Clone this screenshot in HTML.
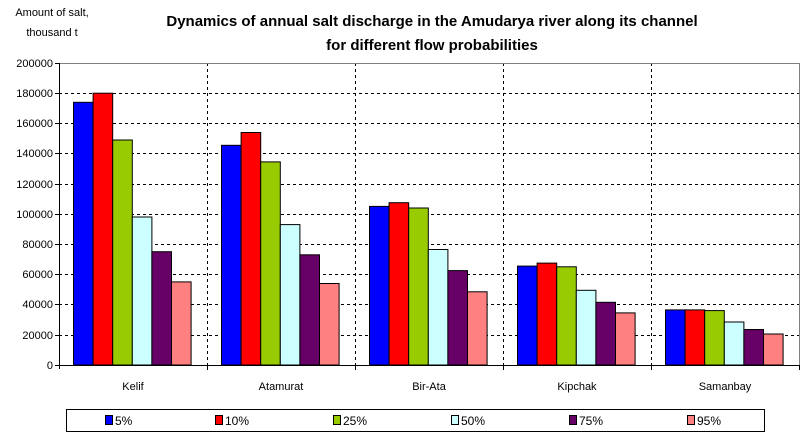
<!DOCTYPE html>
<html><head><meta charset="utf-8"><style>
html,body{margin:0;padding:0;background:#fff;}
svg{display:block;font-family:"Liberation Sans",Arial,sans-serif;}
</style></head><body>
<svg width="808" height="442" viewBox="0 0 808 442" xmlns="http://www.w3.org/2000/svg">
<rect width="808" height="442" fill="#fff"/>
<text x="52" y="16" font-size="11" text-anchor="middle">Amount of salt,</text>
<text x="52" y="36" font-size="11" text-anchor="middle">thousand t</text>
<text x="432" y="26" font-size="15" font-weight="bold" text-anchor="middle">Dynamics of annual salt discharge in the Amudarya river along its channel</text>
<text x="432" y="50" font-size="15" font-weight="bold" text-anchor="middle">for different flow probabilities</text>
<g stroke="#000" stroke-dasharray="3,3" stroke-width="1">
<line x1="59" x2="799" y1="93.5" y2="93.5"/><line x1="59" x2="799" y1="123.5" y2="123.5"/>
<line x1="59" x2="799" y1="153.5" y2="153.5"/><line x1="59" x2="799" y1="184.5" y2="184.5"/>
<line x1="59" x2="799" y1="214.5" y2="214.5"/><line x1="59" x2="799" y1="244.5" y2="244.5"/>
<line x1="59" x2="799" y1="274.5" y2="274.5"/><line x1="59" x2="799" y1="304.5" y2="304.5"/>
<line x1="59" x2="799" y1="335.5" y2="335.5"/>
<line x1="207.5" x2="207.5" y1="63" y2="365"/><line x1="355.5" x2="355.5" y1="63" y2="365"/>
<line x1="503.5" x2="503.5" y1="63" y2="365"/><line x1="651.5" x2="651.5" y1="63" y2="365"/>
</g>
<line x1="59" x2="799" y1="63.5" y2="63.5" stroke="#808080"/>
<line x1="799.5" x2="799.5" y1="63" y2="365" stroke="#808080"/>
<g font-size="11" text-anchor="end">
<text x="53" y="67">200000</text><text x="53" y="97">180000</text><text x="53" y="127">160000</text>
<text x="53" y="157">140000</text><text x="53" y="188">120000</text><text x="53" y="218">100000</text>
<text x="53" y="248">80000</text><text x="53" y="278">60000</text><text x="53" y="308">40000</text>
<text x="53" y="339">20000</text><text x="53" y="369">0</text>
</g>
<g stroke="#000" stroke-width="1">
<rect x="73.5" y="102.3" width="19.6" height="262.7" fill="#0000ff"/>
<rect x="93.1" y="93.2" width="19.6" height="271.8" fill="#ff0000"/>
<rect x="112.7" y="140" width="19.6" height="225" fill="#99cc00"/>
<rect x="132.3" y="217" width="19.6" height="148" fill="#ccffff"/>
<rect x="151.9" y="251.7" width="19.6" height="113.3" fill="#660066"/>
<rect x="171.5" y="281.9" width="19.6" height="83.1" fill="#ff8080"/>

<rect x="221.5" y="145.3" width="19.6" height="219.7" fill="#0000ff"/>
<rect x="241.1" y="132.5" width="19.6" height="232.5" fill="#ff0000"/>
<rect x="260.7" y="161.9" width="19.6" height="203.1" fill="#99cc00"/>
<rect x="280.3" y="224.6" width="19.6" height="140.4" fill="#ccffff"/>
<rect x="299.9" y="254.8" width="19.6" height="110.2" fill="#660066"/>
<rect x="319.5" y="283.5" width="19.6" height="81.5" fill="#ff8080"/>

<rect x="369.5" y="206.4" width="19.6" height="158.6" fill="#0000ff"/>
<rect x="389.1" y="202.7" width="19.6" height="162.3" fill="#ff0000"/>
<rect x="408.7" y="208" width="19.6" height="157" fill="#99cc00"/>
<rect x="428.3" y="249.5" width="19.6" height="115.5" fill="#ccffff"/>
<rect x="447.9" y="270.6" width="19.6" height="94.4" fill="#660066"/>
<rect x="467.5" y="291.8" width="19.6" height="73.2" fill="#ff8080"/>

<rect x="517.5" y="266.1" width="19.6" height="98.9" fill="#0000ff"/>
<rect x="537.1" y="263.1" width="19.6" height="101.9" fill="#ff0000"/>
<rect x="556.7" y="266.8" width="19.6" height="98.2" fill="#99cc00"/>
<rect x="576.3" y="290.3" width="19.6" height="74.7" fill="#ccffff"/>
<rect x="595.9" y="302.3" width="19.6" height="62.7" fill="#660066"/>
<rect x="615.5" y="312.9" width="19.6" height="52.1" fill="#ff8080"/>

<rect x="665.5" y="309.9" width="19.6" height="55.1" fill="#0000ff"/>
<rect x="685.1" y="309.9" width="19.6" height="55.1" fill="#ff0000"/>
<rect x="704.7" y="310.6" width="19.6" height="54.4" fill="#99cc00"/>
<rect x="724.3" y="322" width="19.6" height="43" fill="#ccffff"/>
<rect x="743.9" y="329.5" width="19.6" height="35.5" fill="#660066"/>
<rect x="763.5" y="334" width="19.6" height="31" fill="#ff8080"/>
</g>
<g stroke="#000" stroke-width="1">
<line x1="59.5" x2="59.5" y1="63" y2="369"/>
<line x1="55" x2="59" y1="63.5" y2="63.5"/><line x1="55" x2="59" y1="93.5" y2="93.5"/>
<line x1="55" x2="59" y1="123.5" y2="123.5"/><line x1="55" x2="59" y1="153.5" y2="153.5"/>
<line x1="55" x2="59" y1="184.5" y2="184.5"/><line x1="55" x2="59" y1="214.5" y2="214.5"/>
<line x1="55" x2="59" y1="244.5" y2="244.5"/><line x1="55" x2="59" y1="274.5" y2="274.5"/>
<line x1="55" x2="59" y1="304.5" y2="304.5"/><line x1="55" x2="59" y1="335.5" y2="335.5"/>
<line x1="55" x2="59" y1="365.5" y2="365.5"/>
<line x1="59" x2="800" y1="365.5" y2="365.5"/>
<line x1="207.5" x2="207.5" y1="365" y2="370"/><line x1="355.5" x2="355.5" y1="365" y2="370"/>
<line x1="503.5" x2="503.5" y1="365" y2="370"/><line x1="651.5" x2="651.5" y1="365" y2="370"/>
<line x1="799.5" x2="799.5" y1="365" y2="370"/>
</g>
<g font-size="11" text-anchor="middle">
<text x="133" y="390">Kelif</text><text x="281" y="390">Atamurat</text><text x="429" y="390">Bir-Ata</text>
<text x="577" y="390">Kipchak</text><text x="725" y="390">Samanbay</text>
</g>
<rect x="66.5" y="409.5" width="698" height="22" fill="#fff" stroke="#000"/>
<g stroke="#000" stroke-width="1">
<rect x="105.5" y="415.5" width="7" height="9" fill="#0000ff"/>
<rect x="215.5" y="415.5" width="7" height="9" fill="#ff0000"/>
<rect x="333.5" y="415.5" width="7" height="9" fill="#99cc00"/>
<rect x="451.5" y="415.5" width="7" height="9" fill="#ccffff"/>
<rect x="569.5" y="415.5" width="7" height="9" fill="#660066"/>
<rect x="687.5" y="415.5" width="7" height="9" fill="#ff8080"/>
</g>
<g font-size="12">
<text x="115" y="425">5%</text><text x="225" y="425">10%</text><text x="343" y="425">25%</text>
<text x="461" y="425">50%</text><text x="579" y="425">75%</text><text x="697" y="425">95%</text>
</g>
</svg>
</body></html>
